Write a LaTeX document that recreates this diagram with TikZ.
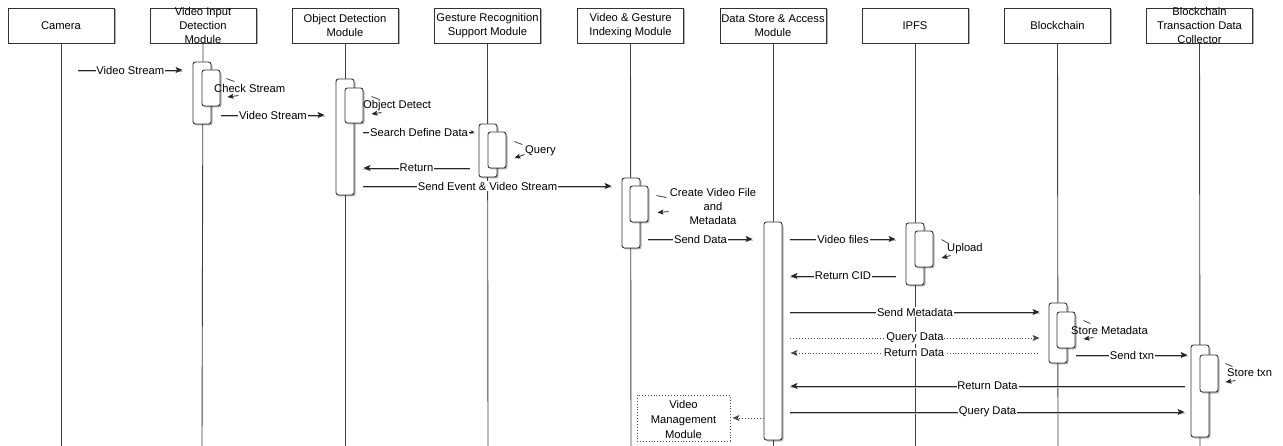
\documentclass[tikz,border=0pt]{standalone}
\usepackage{fontspec}
\setmainfont{Liberation Sans}
\usetikzlibrary{arrows.meta,shadows,calc}
\begin{document}
\begin{tikzpicture}[x=1pt,y=-1pt,
  every node/.style={font=\fontsize{11.2}{14}\selectfont, text=black},
  shad/.style={drop shadow={shadow xshift=1.5pt, shadow yshift=-1.5pt, opacity=0.3, fill=black}},
  hdr/.style={draw=black!80, line width=0.9pt, fill=white, minimum width=106pt, minimum height=35pt, inner sep=0pt, shad},
  hdrtxt/.style={align=center, inner sep=0pt},
  life/.style={draw=black!75, line width=0.9pt},
  act/.style={draw=black!80, line width=0.9pt, fill=white, rounded corners=2.5pt, minimum width=18pt, inner sep=0pt, shad},
  tip/.style={-{Stealth[length=7pt,width=6pt,inset=1.5pt]}},
  msg/.style={draw=black!85, line width=0.9pt, tip, preaction={draw=black!25, -, line width=0.9pt, transform canvas={yshift=-1.6pt}}},
  dmsg/.style={draw=black!70, line width=0.9pt, dotted, tip},
  lab/.style={fill=white, inner sep=0.8pt},
  slab/.style={anchor=west, inner sep=0pt},
  sstroke/.style={draw=black!75, line width=0.8pt},
  sarrow/.style={draw=black!85, line width=0.8pt, -{Stealth[length=6pt,width=5pt,inset=1.2pt]}},
  vmmbox/.style={draw=black!70, line width=0.9pt, dotted, fill=white, minimum width=93pt, minimum height=46pt, inner sep=0pt}
]
\useasboundingbox (0,0) rectangle (1283,446);

% ---------- lifeline headers ----------
\node[hdr] (cam)  at (61,25.5)    {};
\node[hdr] (vidm) at (203,25.5)   {};
\node[hdr] (odm)  at (345,25.5)   {};
\node[hdr] (grsm) at (487.5,25.5) {};
\node[hdr] (vgim) at (630.5,25.5) {};
\node[hdr] (dsam) at (773,25.5)   {};
\node[hdr] (ipfs) at (915,25.5)   {};
\node[hdr] (bc)   at (1057.5,25.5){};
\node[hdr] (btdc) at (1199.5,25.5){};

% ---------- lifelines ----------
\coordinate (camb)  at (61,446);
\coordinate (vidmb) at (202,446);
\coordinate (odmb)  at (345,446);
\coordinate (grsmb) at (488,446);
\coordinate (vgimb) at (631,446);
\coordinate (dsamb) at (773,446);
\coordinate (ipfsb) at (915,446);
\coordinate (bcb)   at (1058,446);
\coordinate (btdcb) at (1200,446);
\draw[life] (cam.south)  -- (camb);
\draw[life] (vidm.south) -- (vidmb);
\draw[life] (odm.south)  -- (odmb);
\draw[life] (grsm.south) -- (grsmb);
\draw[life] (vgim.south) -- (vgimb);
\draw[life] (dsam.south) -- (dsamb);
\draw[life] (ipfs.south) -- (ipfsb);
\draw[life] (bc.south)   -- (bcb);
\draw[life] (btdc.south) -- (btdcb);

% header texts
\node[hdrtxt] (camt)  at (cam)  {Camera};
\node[hdrtxt] (vidmt) at (vidm) {Video Input\\Detection\\Module};
\node[hdrtxt] (odmt)  at (odm)  {Object Detection\\Module};
\node[hdrtxt] (grsmt) at (grsm) {Gesture Recognition\\Support Module};
\node[hdrtxt] (vgimt) at (vgim) {Video \& Gesture\\Indexing Module};
\node[hdrtxt] (dsamt) at (dsam) {Data Store \& Access\\Module};
\node[hdrtxt] (ipfst) at (ipfs) {IPFS};
\node[hdrtxt] (bct)   at (bc)   {Blockchain};
\node[hdrtxt] (btdct) at (btdc) {Blockchain\\Transaction Data\\Collector};

% ---------- activations ----------
\node[act, minimum height=62pt]  (a1o) at (202,93)    {};
\node[act, minimum height=36pt]  (a1i) at (211,88)    {};
\node[act, minimum height=116pt] (a2o) at (345,137)   {};
\node[act, minimum height=35pt]  (a2i) at (354,105.5) {};
\node[act, minimum height=53pt]  (a3o) at (488,150.5) {};
\node[act, minimum height=36pt]  (a3i) at (497,150)   {};
\node[act, minimum height=70pt]  (a4o) at (631,213)   {};
\node[act, minimum height=36pt]  (a4i) at (639,204)   {};
\node[act, minimum height=218pt] (a5)  at (773,331)   {};
\node[act, minimum height=62pt]  (a6o) at (915,254)   {};
\node[act, minimum height=36pt]  (a6i) at (924,249)   {};
\node[act, minimum height=60pt]  (a7o) at (1058,333)  {};
\node[act, minimum height=36pt]  (a7i) at (1066,330)  {};
\node[act, minimum height=92pt]  (a8o) at (1200,391)  {};
\node[act, minimum height=37pt]  (a8i) at (1209,373.5){};

% ---------- messages ----------
\coordinate (vs0) at (78,70);
\draw[msg] (vs0) -- ($(a1o.west|-vs0)+(-10,0)$) node[lab,midway] (m1) {Video Stream};
\draw[msg] ($(a1i.east|-0,115)+(1,0)$) -- ($(a2o.west|-0,115)+(-11,0)$) node[lab,midway] (m2) {Video Stream};
\draw[msg, -{Stealth[length=4pt,width=3.5pt]}] ($(a2i.east|-0,132)+(0,0)$) -- ($(a3o.west|-0,132)+(-4,0)$) node[lab,midway] (m3) {Search Define Data};
\draw[msg] ($(a3o.west|-0,168)+(-9,0)$) -- ($(a2o.east|-0,168)+(9,0)$) node[lab,midway] (m4) {Return};
\draw[msg] ($(a2o.east|-0,186)+(9,0)$) -- ($(a4o.west|-0,186)+(-10,0)$) node[lab,midway] (m5) {Send Event \& Video Stream};
\draw[msg] ($(a4o.east|-0,239)+(8,0)$) -- ($(a5.west|-0,239)+(-11,0)$) node[lab,midway] (m6) {Send Data};
\draw[msg] ($(a5.east|-0,239)+(8,0)$) -- ($(a6o.west|-0,239)+(-10,0)$) node[lab,midway] (m7) {Video files};
\draw[msg] ($(a6o.west|-0,276)+(-10,0)$) -- ($(a5.east|-0,276)+(8,0)$) node[lab,midway] (m8) {Return CID};
\draw[msg] ($(a5.east|-0,312)+(8,0)$) -- ($(a7o.west|-0,312)+(-9,0)$) node[lab,midway] (m9) {Send Metadata};
\draw[dmsg] ($(a5.east|-0,338)+(8,0)$) -- ($(a7o.west|-0,338)+(-9,0)$) node[lab,midway] (m10) {Query Data};
\draw[dmsg] ($(a7o.west|-0,353)+(-11,0)$) -- ($(a5.east|-0,353)+(8,0)$) node[lab,midway] (m11) {Return Data};
\draw[msg] ($(a7o.east|-0,355)+(9,0)$) -- ($(a8o.west|-0,355)+(-3,0)$) node[lab,midway] (m12) {Send txn};
\draw[msg] ($(a8o.west|-0,386)+(-6,0)$) -- ($(a5.east|-0,386)+(8,0)$) node[lab,midway] (m13) {Return Data};
\draw[msg] ($(a5.east|-0,412)+(8,0)$) -- ($(a8o.west|-0,412)+(-6,0)$) node[lab,midway] (m14) {Query Data};

% ---------- Video Management Module ----------
\node[vmmbox] (vmm) at (683.5,418) {};
\node[align=center, inner sep=0pt, font=\fontsize{11.2}{15}\selectfont] (vmmt) at (683.5,419) {Video\\Management\\Module};
\draw[dmsg] (a5.west|-vmm.east) -- ($(vmm.east)+(2,0)$);

% ---------- self messages ----------
\draw[sstroke] ($(a1i.north east)+(6,9)$) -- ++(8,3);
\draw[sarrow]  ($(a1i.north east)+(18,26)$) -- ++(-11,1.5);
\node[slab] (s1) at (214,88) {Check Stream};

\draw[sstroke] ($(a2i.north east)+(8,9)$) -- ++(8,3);
\draw[sarrow]  ($(a2i.north east)+(18,25)$) -- ++(-10,1.5);
\node[slab] (s2) at (363,106) {Object Detect};

\draw[sstroke] ($(a3i.north east)+(8,10)$) -- ++(8,3);
\draw[sarrow]  ($(a3i.north east)+(18,23)$) -- ++(-10,3.5);
\node[slab] (s3) at (525,151) {Query};

\draw[sstroke] ($(a4i.north east)+(8,10)$) -- ++(10,2);
\draw[sarrow]  ($(a4i.north east)+(20,26)$) -- ++(-11,1);
\node[align=center, inner sep=0pt] (s4) at (713,206) {Create Video File\\and\\Metadata};

\draw[sstroke] ($(a6i.north east)+(8,9)$) -- ++(7,4);
\draw[sarrow]  ($(a6i.north east)+(17,25)$) -- ++(-9,2.5);
\node[slab] (s5) at (947,249) {Upload};

\draw[sstroke] ($(a7i.north east)+(8,9)$) -- ++(7,3);
\draw[sarrow]  ($(a7i.north east)+(18,26)$) -- ++(-10,1.5);
\node[slab] (s6) at (1071,330) {Store Metadata};

\draw[sstroke] ($(a8i.north east)+(7,9)$) -- ++(7,3);
\draw[sarrow]  ($(a8i.north east)+(17,26)$) -- ++(-10,1.5);
\node[slab] (s7) at (1227,373) {Store txn};
\end{tikzpicture}
\end{document}
